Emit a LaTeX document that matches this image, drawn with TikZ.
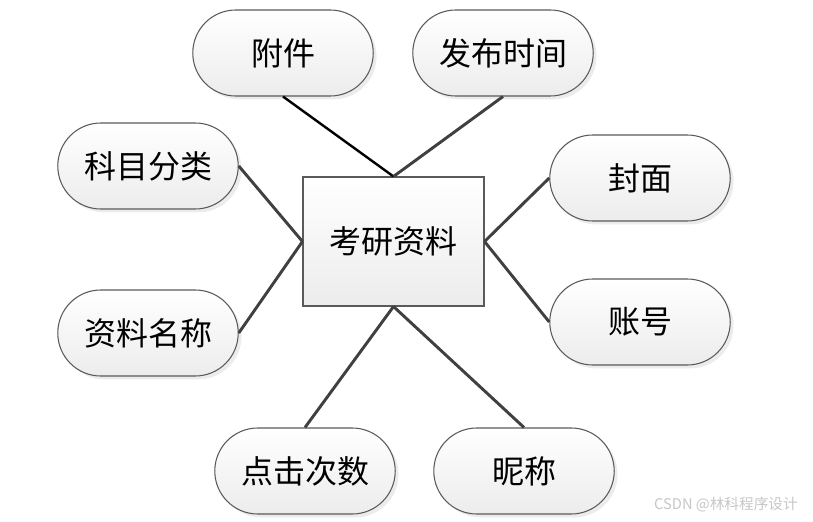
\documentclass[tikz,border=0pt]{standalone}
\usepackage{fontspec}
\newfontfamily\cjk{Noto Sans CJK SC}
\usetikzlibrary{shapes.misc,shadows}
\definecolor{edgegray}{HTML}{404040}
\definecolor{rimgray}{HTML}{5A5A5A}
\definecolor{shadegray}{HTML}{ECECEC}

\begin{document}
\begin{tikzpicture}[
    x=0.75pt, y=-0.75pt,
    attr/.style={rounded rectangle, draw=rimgray, line width=0.8pt, top color=white, bottom color=shadegray,
        minimum width=142pt, minimum height=64.5pt, font=\cjk\fontsize{24}{28}\selectfont,
        drop shadow={shadow xshift=2.5pt, shadow yshift=-2.5pt, fill=gray!30}},
    entity/.style={rectangle, draw=rimgray, line width=0.8pt, top color=white, bottom color=shadegray,
        minimum width=135.75pt, minimum height=96.75pt, font=\cjk\fontsize{24}{28}\selectfont},
    link/.style={draw=edgegray, line width=2.2pt},
]
    \useasboundingbox (0,0) rectangle (813,521);

    % Entity
    \node[entity] (ky) at (393.5, 241.5) {考研资料};

    % Attributes
    \node[attr] (fj) at (283, 53) {附件};
    \node[attr] (fbsj) at (503, 53) {发布时间};
    \node[attr] (kmfl) at (148, 166) {科目分类};
    \node[attr] (zlmc) at (148, 333) {资料名称};
    \node[attr] (fm) at (640, 178) {封面};
    \node[attr] (zh) at (640, 322) {账号};
    \node[attr] (djcs) at (305, 471) {点击次数};
    \node[attr] (nc) at (524, 471) {昵称};

    % Links
    \draw[link, draw=black, line width=1.8pt] (fj.south) -- (ky.north);
    \draw[link] (fbsj.south) -- (ky.north);
    \draw[link] (kmfl.east) -- (ky.west);
    \draw[link] (zlmc.east) -- (ky.west);
    \draw[link] (fm.west) -- (ky.east);
    \draw[link] (zh.west) -- (ky.east);
    \draw[link] (djcs.north) -- (ky.south);
    \draw[link] (nc.north) -- (ky.south);

    % Watermark
    \node[font=\cjk\fontsize{11}{13}\selectfont, color=gray!45] (wm) at (726, 505) {CSDN @林科程序设计};
\end{tikzpicture}
\end{document}
